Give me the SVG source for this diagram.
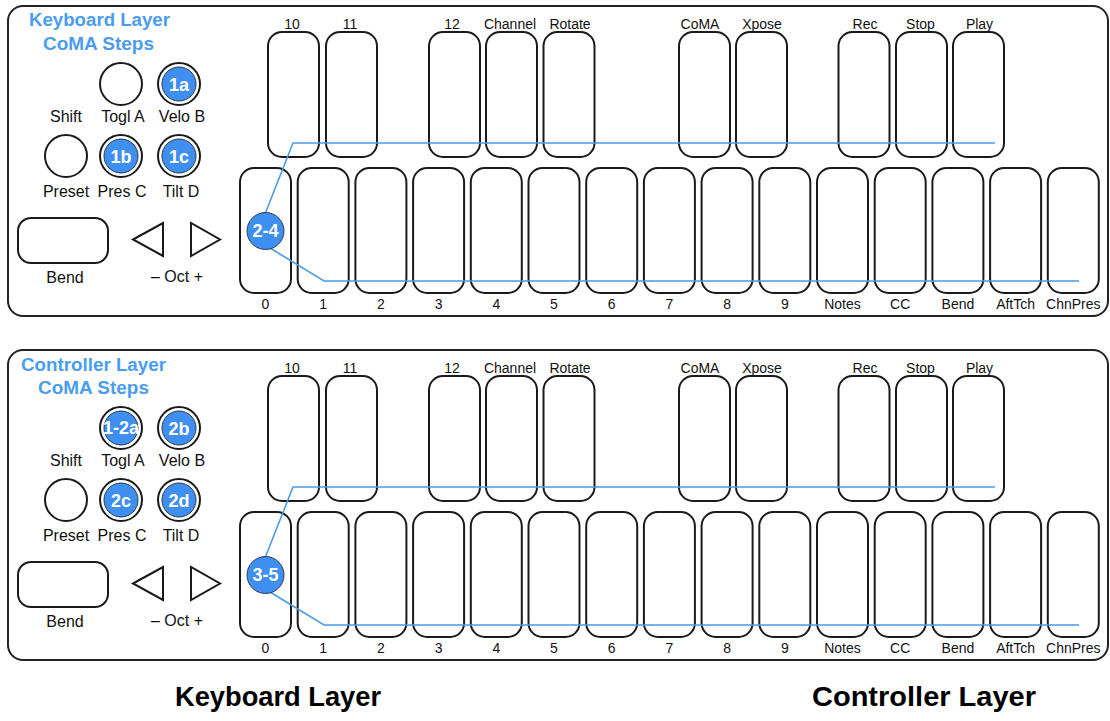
<svg xmlns="http://www.w3.org/2000/svg" width="1110" height="721" viewBox="0 0 1110 721">
  <style>
    .panel{fill:#fff;stroke:#222;stroke-width:2}
    .key{fill:#fff;stroke:#1a1a1a;stroke-width:2}
    .btn{fill:#fff;stroke:#1a1a1a;stroke-width:2}
    .lbl{font-family:"Liberation Sans",Arial,sans-serif;font-size:14px;fill:#111;text-anchor:middle}
    .side{font-size:16px}
    .title{font-family:"Liberation Sans",Arial,sans-serif;font-weight:bold;font-size:17.5px;fill:#4a9cf0}
    .step{fill:#3f8ff0;stroke:#2b3a4f;stroke-width:1}
    .steptxt{font-family:"Liberation Sans",Arial,sans-serif;font-weight:bold;font-size:18px;fill:#fff;text-anchor:middle}
    .route{fill:none;stroke:#4a9be8;stroke-width:1.6}
    .caption{font-family:"Liberation Sans",Arial,sans-serif;font-weight:bold;font-size:28px;fill:#000;text-anchor:middle}
  </style>
  <defs>
    <rect id="pad" width="51" height="125" rx="14" ry="14" class="key"/>
  </defs>

  <!-- ================= Keyboard layer panel ================= -->
  <g id="kb-panel">
    <rect class="panel" x="8" y="6" width="1100" height="310" rx="15" ry="15"/>
    <text class="title" x="29" y="26" textLength="141" lengthAdjust="spacingAndGlyphs">Keyboard Layer</text>
    <text class="title" x="43" y="50" textLength="111" lengthAdjust="spacingAndGlyphs">CoMA Steps</text>
  </g>

  <!-- side buttons -->
  <g id="kb-shift"><text class="lbl side" x="66" y="122">Shift</text></g>
  <g id="kb-togl"><circle class="btn" cx="121" cy="84" r="21"/><text class="lbl side" x="123" y="122">Togl A</text></g>
  <g id="kb-velo"><circle class="btn" cx="179" cy="84" r="21"/><circle class="step" cx="179" cy="84" r="17"/><text class="steptxt" x="179" y="90.5">1a</text><text class="lbl side" x="182" y="122">Velo B</text></g>
  <g id="kb-preset"><circle class="btn" cx="66" cy="156" r="21"/><text class="lbl side" x="66" y="197">Preset</text></g>
  <g id="kb-pres"><circle class="btn" cx="121" cy="156" r="21"/><circle class="step" cx="121" cy="156" r="17"/><text class="steptxt" x="121" y="162.5">1b</text><text class="lbl side" x="122" y="197">Pres C</text></g>
  <g id="kb-tilt"><circle class="btn" cx="179" cy="156" r="21"/><circle class="step" cx="179" cy="156" r="17"/><text class="steptxt" x="179" y="162.5">1c</text><text class="lbl side" x="181" y="197">Tilt D</text></g>
  <g id="kb-bend"><rect class="btn" x="18" y="218" width="90" height="45" rx="13"/><text class="lbl side" x="65" y="283">Bend</text></g>
  <g id="kb-oct"><polygon class="btn" points="133,239.5 163,223 163,256"/><polygon class="btn" points="191,223 191,256 220,239.5"/><text class="lbl side" x="177" y="282">– Oct +</text></g>

  <!-- upper pads -->
  <g id="kb-up-10"><use href="#pad" x="268" y="32"/><text class="lbl" x="292" y="29">10</text></g>
  <g id="kb-up-11"><use href="#pad" x="326" y="32"/><text class="lbl" x="350" y="29">11</text></g>
  <g id="kb-up-12"><use href="#pad" x="429" y="32"/><text class="lbl" x="452" y="29">12</text></g>
  <g id="kb-up-channel"><use href="#pad" x="486" y="32"/><text class="lbl" x="510" y="29">Channel</text></g>
  <g id="kb-up-rotate"><use href="#pad" x="543.5" y="32"/><text class="lbl" x="570" y="29">Rotate</text></g>
  <g id="kb-up-coma"><use href="#pad" x="679" y="32"/><text class="lbl" x="700" y="29">CoMA</text></g>
  <g id="kb-up-xpose"><use href="#pad" x="736" y="32"/><text class="lbl" x="762" y="29">Xpose</text></g>
  <g id="kb-up-rec"><use href="#pad" x="838.5" y="32"/><text class="lbl" x="865" y="29">Rec</text></g>
  <g id="kb-up-stop"><use href="#pad" x="896" y="32"/><text class="lbl" x="920.5" y="29">Stop</text></g>
  <g id="kb-up-play"><use href="#pad" x="953" y="32"/><text class="lbl" x="979.5" y="29">Play</text></g>

  <!-- lower pads -->
  <g id="kb-lo-0"><use href="#pad" x="240" y="168"/><text class="lbl" x="265.5" y="309">0</text></g>
  <g id="kb-lo-1"><use href="#pad" x="297.7" y="168"/><text class="lbl" x="323.2" y="309">1</text></g>
  <g id="kb-lo-2"><use href="#pad" x="355.4" y="168"/><text class="lbl" x="380.9" y="309">2</text></g>
  <g id="kb-lo-3"><use href="#pad" x="413.1" y="168"/><text class="lbl" x="438.6" y="309">3</text></g>
  <g id="kb-lo-4"><use href="#pad" x="470.8" y="168"/><text class="lbl" x="496.3" y="309">4</text></g>
  <g id="kb-lo-5"><use href="#pad" x="528.5" y="168"/><text class="lbl" x="554" y="309">5</text></g>
  <g id="kb-lo-6"><use href="#pad" x="586.2" y="168"/><text class="lbl" x="611.7" y="309">6</text></g>
  <g id="kb-lo-7"><use href="#pad" x="643.9" y="168"/><text class="lbl" x="669.4" y="309">7</text></g>
  <g id="kb-lo-8"><use href="#pad" x="701.6" y="168"/><text class="lbl" x="727.1" y="309">8</text></g>
  <g id="kb-lo-9"><use href="#pad" x="759.3" y="168"/><text class="lbl" x="784.8" y="309">9</text></g>
  <g id="kb-lo-notes"><use href="#pad" x="817" y="168"/><text class="lbl" x="842.5" y="309">Notes</text></g>
  <g id="kb-lo-cc"><use href="#pad" x="874.7" y="168"/><text class="lbl" x="900.2" y="309">CC</text></g>
  <g id="kb-lo-bend"><use href="#pad" x="932.4" y="168"/><text class="lbl" x="957.9" y="309">Bend</text></g>
  <g id="kb-lo-afttch"><use href="#pad" x="990.1" y="168"/><text class="lbl" x="1015.6" y="309">AftTch</text></g>
  <g id="kb-lo-chnpres"><use href="#pad" x="1047.8" y="168"/><text class="lbl" x="1073.3" y="309">ChnPres</text></g>

  <!-- routing through the pads -->
  <g id="kb-connectors">
    <path class="route" d="M995,143 H293 L265,214"/>
    <path class="route" d="M270,248 L324,281 H1079"/>
  </g>
  <g id="kb-step-2-4"><circle class="step" cx="265.5" cy="231" r="18.5"/><text class="steptxt" x="265.5" y="237" font-size="17">2-4</text></g>

  <!-- ================= Controller layer panel ================= -->
  <g id="cc-panel">
    <rect class="panel" x="8" y="350" width="1100" height="310" rx="15" ry="15"/>
    <text class="title" x="21" y="371" textLength="145" lengthAdjust="spacingAndGlyphs">Controller Layer</text>
    <text class="title" x="38" y="394" textLength="111" lengthAdjust="spacingAndGlyphs">CoMA Steps</text>
  </g>

  <g id="cc-shift"><text class="lbl side" x="66" y="466">Shift</text></g>
  <g id="cc-togl"><circle class="btn" cx="121" cy="428" r="21"/><circle class="step" cx="121" cy="428" r="17"/><text class="steptxt" x="121" y="434" font-size="16">1-2a</text><text class="lbl side" x="123" y="466">Togl A</text></g>
  <g id="cc-velo"><circle class="btn" cx="179" cy="428" r="21"/><circle class="step" cx="179" cy="428" r="17"/><text class="steptxt" x="179" y="434.5">2b</text><text class="lbl side" x="182" y="466">Velo B</text></g>
  <g id="cc-preset"><circle class="btn" cx="66" cy="500" r="21"/><text class="lbl side" x="66" y="541">Preset</text></g>
  <g id="cc-pres"><circle class="btn" cx="121" cy="500" r="21"/><circle class="step" cx="121" cy="500" r="17"/><text class="steptxt" x="121" y="506.5">2c</text><text class="lbl side" x="122" y="541">Pres C</text></g>
  <g id="cc-tilt"><circle class="btn" cx="179" cy="500" r="21"/><circle class="step" cx="179" cy="500" r="17"/><text class="steptxt" x="179" y="506.5">2d</text><text class="lbl side" x="181" y="541">Tilt D</text></g>
  <g id="cc-bend"><rect class="btn" x="18" y="562" width="90" height="45" rx="13"/><text class="lbl side" x="65" y="627">Bend</text></g>
  <g id="cc-oct"><polygon class="btn" points="133,583.5 163,567 163,600"/><polygon class="btn" points="191,567 191,600 220,583.5"/><text class="lbl side" x="177" y="626">– Oct +</text></g>

  <g id="cc-up-10"><use href="#pad" x="268" y="376"/><text class="lbl" x="292" y="373">10</text></g>
  <g id="cc-up-11"><use href="#pad" x="326" y="376"/><text class="lbl" x="350" y="373">11</text></g>
  <g id="cc-up-12"><use href="#pad" x="429" y="376"/><text class="lbl" x="452" y="373">12</text></g>
  <g id="cc-up-channel"><use href="#pad" x="486" y="376"/><text class="lbl" x="510" y="373">Channel</text></g>
  <g id="cc-up-rotate"><use href="#pad" x="543.5" y="376"/><text class="lbl" x="570" y="373">Rotate</text></g>
  <g id="cc-up-coma"><use href="#pad" x="679" y="376"/><text class="lbl" x="700" y="373">CoMA</text></g>
  <g id="cc-up-xpose"><use href="#pad" x="736" y="376"/><text class="lbl" x="762" y="373">Xpose</text></g>
  <g id="cc-up-rec"><use href="#pad" x="838.5" y="376"/><text class="lbl" x="865" y="373">Rec</text></g>
  <g id="cc-up-stop"><use href="#pad" x="896" y="376"/><text class="lbl" x="920.5" y="373">Stop</text></g>
  <g id="cc-up-play"><use href="#pad" x="953" y="376"/><text class="lbl" x="979.5" y="373">Play</text></g>

  <g id="cc-lo-0"><use href="#pad" x="240" y="512"/><text class="lbl" x="265.5" y="653">0</text></g>
  <g id="cc-lo-1"><use href="#pad" x="297.7" y="512"/><text class="lbl" x="323.2" y="653">1</text></g>
  <g id="cc-lo-2"><use href="#pad" x="355.4" y="512"/><text class="lbl" x="380.9" y="653">2</text></g>
  <g id="cc-lo-3"><use href="#pad" x="413.1" y="512"/><text class="lbl" x="438.6" y="653">3</text></g>
  <g id="cc-lo-4"><use href="#pad" x="470.8" y="512"/><text class="lbl" x="496.3" y="653">4</text></g>
  <g id="cc-lo-5"><use href="#pad" x="528.5" y="512"/><text class="lbl" x="554" y="653">5</text></g>
  <g id="cc-lo-6"><use href="#pad" x="586.2" y="512"/><text class="lbl" x="611.7" y="653">6</text></g>
  <g id="cc-lo-7"><use href="#pad" x="643.9" y="512"/><text class="lbl" x="669.4" y="653">7</text></g>
  <g id="cc-lo-8"><use href="#pad" x="701.6" y="512"/><text class="lbl" x="727.1" y="653">8</text></g>
  <g id="cc-lo-9"><use href="#pad" x="759.3" y="512"/><text class="lbl" x="784.8" y="653">9</text></g>
  <g id="cc-lo-notes"><use href="#pad" x="817" y="512"/><text class="lbl" x="842.5" y="653">Notes</text></g>
  <g id="cc-lo-cc"><use href="#pad" x="874.7" y="512"/><text class="lbl" x="900.2" y="653">CC</text></g>
  <g id="cc-lo-bend"><use href="#pad" x="932.4" y="512"/><text class="lbl" x="957.9" y="653">Bend</text></g>
  <g id="cc-lo-afttch"><use href="#pad" x="990.1" y="512"/><text class="lbl" x="1015.6" y="653">AftTch</text></g>
  <g id="cc-lo-chnpres"><use href="#pad" x="1047.8" y="512"/><text class="lbl" x="1073.3" y="653">ChnPres</text></g>

  <g id="cc-connectors">
    <path class="route" d="M995,487 H293 L265,558"/>
    <path class="route" d="M270,592 L324,625 H1079"/>
  </g>
  <g id="cc-step-3-5"><circle class="step" cx="265.5" cy="575" r="18.5"/><text class="steptxt" x="265.5" y="581" font-size="17">3-5</text></g>

  <!-- captions -->
  <g id="captions">
    <text class="caption" x="278" y="706" textLength="206" lengthAdjust="spacingAndGlyphs">Keyboard Layer</text>
    <text class="caption" x="924" y="706" textLength="224" lengthAdjust="spacingAndGlyphs">Controller Layer</text>
  </g>
</svg>
